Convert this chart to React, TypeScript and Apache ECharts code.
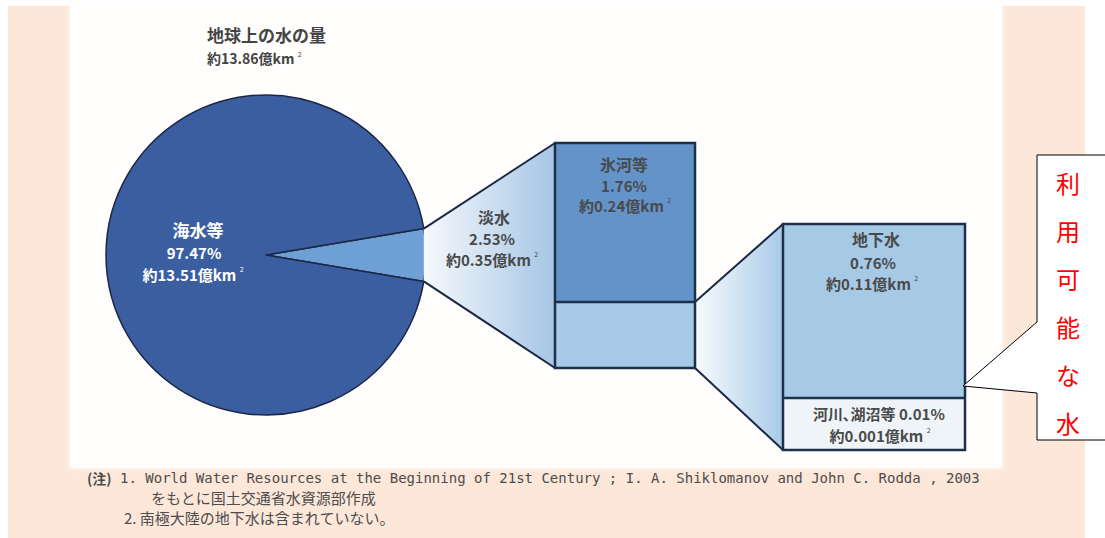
import React, { useEffect, useRef } from "react";
import * as echarts from "echarts";

// ---- data ----
const chartTitle = "地球上の水の量";
const totalVolume = "13.86";
const categories = ["海水等", "淡水", "氷河等", "地下水", "河川､湖沼等"];
const percents = [97.47, 2.53, 1.76, 0.76, 0.01];
const volumes = ["13.51", "0.35", "0.24", "0.11", "0.001"];
const calloutText = ["利", "用", "可", "能", "な", "水"];
const noteLines = [
  "(注)",
  "1. World Water Resources at the Beginning of 21st Century ; I. A. Shiklomanov and John C. Rodda , 2003",
  "をもとに国土交通省水資源部作成",
  "2. 南極大陸の地下水は含まれていない。",
];

const JP = '"Noto Sans CJK JP", "Noto Sans", sans-serif';
const MONO = '"DejaVu Sans Mono", "Liberation Mono", monospace';
const DARK = "#1b2744";

function volText(v: string, size: number, color: string, x: number, y: number, align = "center") {
  return {
    type: "text",
    z: 20,
    x,
    y,
    style: {
      text: `{a|約${v}億km }{s|2}`,
      align,
      verticalAlign: "middle",
      fill: color,
      rich: {
        a: { fontSize: size, fontFamily: JP, fontWeight: "bold", fill: color, lineHeight: size + 2 },
        s: { fontSize: 7, fontFamily: JP, fill: color, verticalAlign: "top" },
      },
    },
  };
}

function txt(text: string, x: number, y: number, size: number, color: string, align = "center", weight = "bold", family = JP) {
  return {
    type: "text",
    z: 20,
    x,
    y,
    style: {
      text,
      align,
      verticalAlign: "middle",
      fill: color,
      fontSize: size,
      fontFamily: family,
      fontWeight: weight,
    },
  };
}

export default function App() {
  const ref = useRef<HTMLDivElement>(null);
  useEffect(() => {
    if (!ref.current) return;
    const chart = echarts.init(ref.current, undefined, { renderer: "svg" });

    const cx = 266, cy = 255, r = 160, half = 9.5;
    const rad = (half * Math.PI) / 180;
    const pTop = [cx + r * Math.cos(rad), cy - r * Math.sin(rad)];
    const pBot = [cx + r * Math.cos(rad), cy + r * Math.sin(rad)];

    const mid = { x: 555, y: 143, w: 140, top: 159, bot: 66 };
    const rt = { x: 783, y: 224, w: 182, top: 174, bot: 52 };

    const labelGray = "#4a4a4a";
    const noteGray = "#4d4d4d";

    const graphics: any[] = [
      // backgrounds
      { type: "rect", z: 0, shape: { x: 8, y: 6, width: 1077, height: 532 }, style: { fill: "#fce7d9" } },
      {
        type: "rect",
        z: 0,
        shape: { x: 70, y: 6, width: 932, height: 462 },
        style: { fill: "#fffefd", shadowBlur: 6, shadowColor: "rgba(255,255,255,0.9)" },
      },
      // funnel 1
      {
        type: "polygon",
        z: 5,
        shape: { points: [pTop, [mid.x, mid.y], [mid.x, mid.y + mid.top + mid.bot], pBot] },
        style: {
          fill: new echarts.graphic.LinearGradient(0, 0, 1, 0, [
            { offset: 0, color: "#f6f9fc" },
            { offset: 1, color: "#a6c5e5" },
          ]),
        },
      },
      { type: "line", z: 6, shape: { x1: pTop[0], y1: pTop[1], x2: mid.x, y2: mid.y }, style: { stroke: DARK, lineWidth: 2 } },
      { type: "line", z: 6, shape: { x1: pBot[0], y1: pBot[1], x2: mid.x, y2: mid.y + mid.top + mid.bot }, style: { stroke: DARK, lineWidth: 2 } },
      // middle box
      { type: "rect", z: 7, shape: { x: mid.x, y: mid.y, width: mid.w, height: mid.top }, style: { fill: "#6393c8" } },
      { type: "rect", z: 7, shape: { x: mid.x, y: mid.y + mid.top, width: mid.w, height: mid.bot }, style: { fill: "#a6c9e7" } },
      { type: "rect", z: 8, shape: { x: mid.x, y: mid.y, width: mid.w, height: mid.top + mid.bot }, style: { fill: "none", stroke: "#1d3049", lineWidth: 2.5 } },
      { type: "line", z: 8, shape: { x1: mid.x, y1: mid.y + mid.top, x2: mid.x + mid.w, y2: mid.y + mid.top }, style: { stroke: "#1d3049", lineWidth: 2.5 } },
      // funnel 2
      {
        type: "polygon",
        z: 5,
        shape: { points: [[mid.x + mid.w, mid.y + mid.top], [rt.x, rt.y], [rt.x, rt.y + rt.top + rt.bot], [mid.x + mid.w, mid.y + mid.top + mid.bot]] },
        style: {
          fill: new echarts.graphic.LinearGradient(0, 0, 1, 0, [
            { offset: 0, color: "#f8fbfd" },
            { offset: 1, color: "#a8cae8" },
          ]),
        },
      },
      { type: "line", z: 6, shape: { x1: mid.x + mid.w, y1: mid.y + mid.top, x2: rt.x, y2: rt.y }, style: { stroke: DARK, lineWidth: 2 } },
      { type: "line", z: 6, shape: { x1: mid.x + mid.w, y1: mid.y + mid.top + mid.bot, x2: rt.x, y2: rt.y + rt.top + rt.bot }, style: { stroke: DARK, lineWidth: 2 } },
      // right box
      { type: "rect", z: 7, shape: { x: rt.x, y: rt.y, width: rt.w, height: rt.top }, style: { fill: "#a6c9e6" } },
      { type: "rect", z: 7, shape: { x: rt.x, y: rt.y + rt.top, width: rt.w, height: rt.bot }, style: { fill: "#eef4f8" } },
      { type: "rect", z: 8, shape: { x: rt.x, y: rt.y, width: rt.w, height: rt.top + rt.bot }, style: { fill: "none", stroke: "#1d3049", lineWidth: 2.5 } },
      { type: "line", z: 8, shape: { x1: rt.x, y1: rt.y + rt.top, x2: rt.x + rt.w, y2: rt.y + rt.top }, style: { stroke: "#1d3049", lineWidth: 2.5 } },
      // title
      txt(chartTitle, 207, 34, 17, "#444", "left"),
      volText(totalVolume, 14, "#444", 207, 58, "left"),
      // sea water labels
      txt(categories[0], 198, 229, 17, "#ffffff"),
      txt(`${percents[0]}%`, 194, 252, 15, "#ffffff"),
      volText(volumes[0], 15, "#ffffff", 193, 274),
      // fresh water labels
      txt(categories[1], 494, 217, 16, labelGray),
      txt(`${percents[1]}%`, 492, 238, 15, labelGray),
      volText(volumes[1], 15, labelGray, 492, 259),
      // glacier labels
      txt(categories[2], 624, 164, 16, labelGray),
      txt(`${percents[2]}%`, 624, 185, 15, labelGray),
      volText(volumes[2], 15, labelGray, 625, 205),
      // groundwater labels
      txt(categories[3], 876, 239, 16, labelGray),
      txt(`${percents[3]}%`, 873, 262, 15, labelGray),
      volText(volumes[3], 15, labelGray, 872, 283),
      // rivers & lakes
      txt(`${categories[4]} ${percents[4]}%`, 879, 413, 15, labelGray),
      volText(volumes[4], 15, labelGray, 880, 435),
      // footnotes
      txt(noteLines[0], 87, 478, 14, noteGray, "left", "bold"),
      txt(noteLines[1], 120, 478, 14, noteGray, "left", "normal", MONO),
      txt(noteLines[2], 151, 497, 15, noteGray, "left", "normal"),
      txt(noteLines[3], 124, 517, 15, noteGray, "left", "normal"),
      // callout
      {
        type: "polygon",
        z: 30,
        shape: {
          points: [[1037, 155], [1112, 155], [1112, 440], [1037, 440], [1037, 393], [963, 386], [1037, 322]],
        },
        style: { fill: "#ffffff", stroke: "#000000", lineWidth: 1 },
      },
      ...calloutText.map((c, i) => ({
        type: "text",
        z: 31,
        x: 1068,
        y: 182 + i * 48,
        style: {
          text: c,
          align: "center",
          verticalAlign: "middle",
          fill: "#ff0000",
          fontSize: 24,
          fontFamily: JP,
        },
      })),
    ];

    chart.setOption({
      animation: false,
      backgroundColor: "#ffffff",
      series: [
        {
          type: "pie",
          z: 3,
          silent: true,
          center: [cx, cy],
          radius: r,
          startAngle: half,
          clockwise: true,
          minAngle: half * 2,
          label: { show: false },
          labelLine: { show: false },
          itemStyle: { borderColor: DARK, borderWidth: 1.5 },
          data: [
            { name: categories[1], value: percents[1], itemStyle: { color: "#6e9fd5" } },
            { name: categories[0], value: percents[0], itemStyle: { color: "#3b5ea1" } },
          ],
        },
      ],
      graphic: { elements: graphics },
    });
    return () => chart.dispose();
  }, []);
  return <div ref={ref} style={{ position: "absolute", left: 0, top: 0, width: 1105, height: 538 }} />;
}
